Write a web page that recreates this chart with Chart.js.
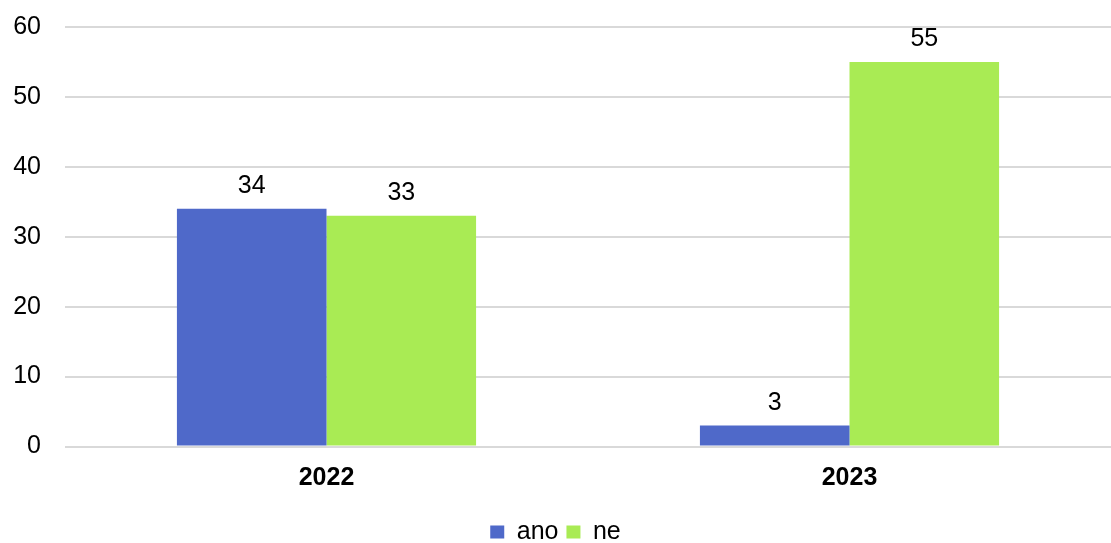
<!DOCTYPE html>
<html>
<head>
<meta charset="utf-8">
<script src="https://cdn.jsdelivr.net/npm/chart.js@4/dist/chart.umd.min.js"></script>
<style>
  html, body { margin: 0; padding: 0; background: #fff; }
  #wrap { width: 1111px; height: 543px; position: relative; }
</style>
</head>
<body>
<div id="wrap"><canvas id="answersChart"></canvas></div>
<script>
// Answers per year
const years = ['2022', '2023'];
const yesValues = [34, 3];
const noValues = [33, 55];
const yTicks = [0, 10, 20, 30, 40, 50, 60];

const fontFamily = '"Liberation Sans", Arial, sans-serif';

// Write each bar's value just above it
const valueLabels = {
    id: 'valueLabels',
    afterDatasetsDraw(chart) {
        const ctx = chart.ctx;
        ctx.save();
        ctx.font = '25px ' + fontFamily;
        ctx.fillStyle = '#000';
        ctx.textAlign = 'center';
        ctx.textBaseline = 'alphabetic';
        chart.data.datasets.forEach((ds, i) => {
            chart.getDatasetMeta(i).data.forEach((bar, j) => {
                ctx.fillText(ds.data[j], bar.x, bar.y - 16);
            });
        });
        ctx.restore();
    }
};

new Chart(document.getElementById('answersChart'), {
    type: 'bar',
    data: {
        labels: years,
        datasets: [{
            label: 'ano',
            data: yesValues,
            backgroundColor: '#4f69c9'
        }, {
            label: 'ne',
            data: noValues,
            backgroundColor: '#a9eb54'
        }]
    },
    options: {
        responsive: true,
        maintainAspectRatio: false,
        animation: false,
        devicePixelRatio: 1,
        layout: {
            padding: { top: 27, right: 0, left: 0, bottom: -11.5 }
        },
        plugins: {
            tooltip: { enabled: false },
            legend: {
                position: 'bottom',
                labels: {
                    boxWidth: 14,
                    boxHeight: 13,
                    padding: 8,
                    color: '#000',
                    font: { family: fontFamily, size: 25 }
                }
            }
        },
        datasets: {
            bar: {
                barPercentage: 1,
                categoryPercentage: 0.572
            }
        },
        scales: {
            x: {
                grid: { display: false, tickLength: 0 },
                border: { display: false },
                ticks: {
                    color: '#000',
                    padding: 16.5,
                    font: { family: fontFamily, size: 25, weight: 'bold' }
                },
                afterFit(scale) { scale.height = 65; }
            },
            y: {
                min: 0,
                max: 60,
                afterBuildTicks(scale) {
                    scale.ticks = yTicks.map(v => ({ value: v }));
                },
                grid: {
                    color: '#d9d9d9',
                    lineWidth: 2,
                    drawTicks: false
                },
                border: { display: false },
                ticks: {
                    color: '#000',
                    padding: 24,
                    font: { family: fontFamily, size: 25 }
                },
                afterFit(scale) {
                    scale.width = 65;
                    scale.paddingTop = 0;
                    scale.paddingBottom = 0;
                }
            }
        }
    },
    plugins: [valueLabels]
});
</script>
</body>
</html>
